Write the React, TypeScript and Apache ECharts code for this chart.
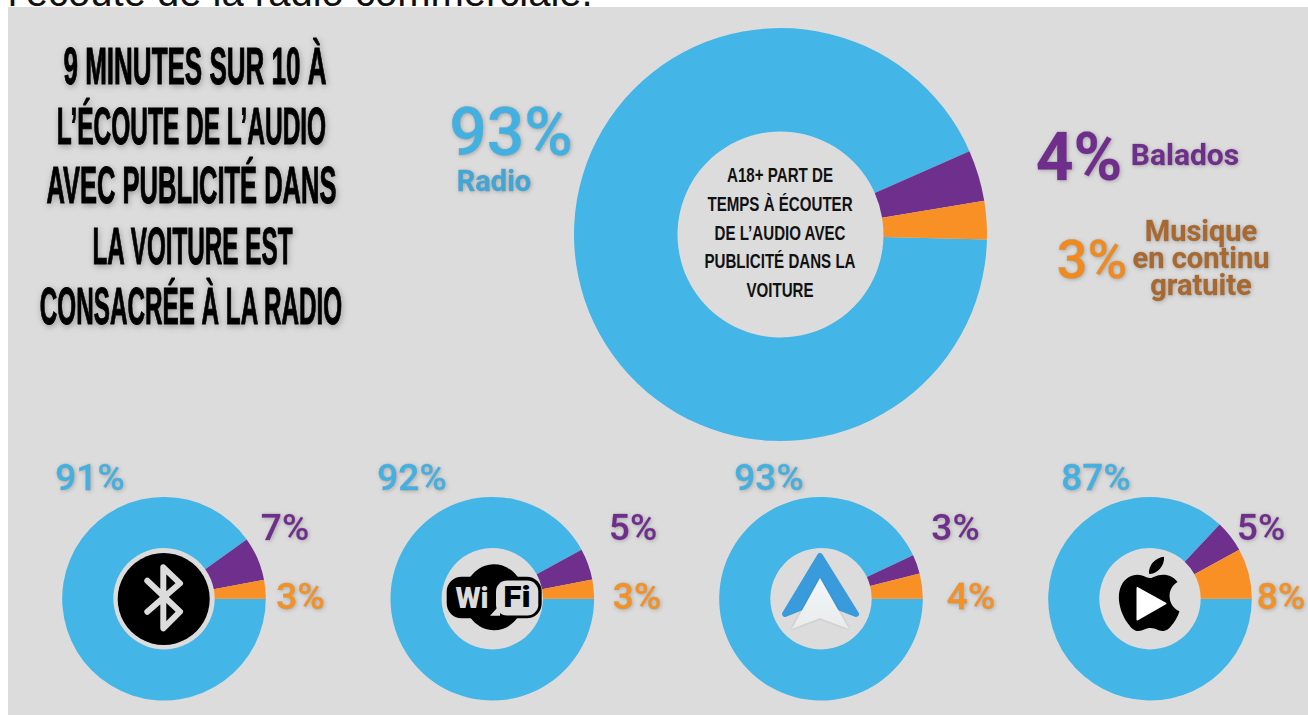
import React, { useEffect, useRef } from "react";
import * as echarts from "echarts";

// Share of listening time, in percent, ordered radio / podcasts / free streaming.
const mainShares = [93, 4, 3];
const mainNames = ["Radio", "Balados", "Musique en continu gratuite"];
const bluetoothShares = [91, 7, 3];
const wifiShares = [92, 5, 3];
const androidAutoShares = [93, 3, 4];
const carPlayShares = [87, 5, 8];

const headingLines = [
  "9 MINUTES SUR 10 À",
  "L’ÉCOUTE DE L’AUDIO",
  "AVEC PUBLICITÉ DANS",
  "LA VOITURE EST",
  "CONSACRÉE À LA RADIO",
];
const centerLines = [
  "A18+ PART DE",
  "TEMPS À ÉCOUTER",
  "DE L’AUDIO AVEC",
  "PUBLICITÉ DANS LA",
  "VOITURE",
];
const clippedLine = "l’écoute de la radio commerciale.";

const BLUE = "#43b5e7";
const PURPLE = "#6f2f8c";
const ORANGE = "#f99025";
const PANEL = "#dcdcdc";
const GROTESK = '"Liberation Sans", sans-serif';

const APPLE_D =
  "M12.152 6.896c-.948 0-2.415-1.078-3.96-1.04-2.04.027-3.91 1.183-4.961 3.014-2.117 3.675-.546 9.103 1.519 12.09 1.013 1.454 2.208 3.09 3.792 3.039 1.52-.065 2.09-.987 3.935-.987 1.831 0 2.35.987 3.96.948 1.637-.026 2.676-1.48 3.676-2.948 1.156-1.688 1.636-3.325 1.662-3.415-.039-.013-3.182-1.221-3.22-4.857-.026-3.04 2.48-4.494 2.597-4.559-1.429-2.09-3.623-2.324-4.39-2.376-2-.156-3.675 1.09-4.61 1.09zM15.53 3.83c.843-1.012 1.4-2.427 1.245-3.83-1.207.052-2.662.805-3.532 1.818-.78.896-1.454 2.338-1.273 3.714 1.338.104 2.715-.688 3.559-1.701";
echarts.graphic.registerShape("appleMark", echarts.graphic.extendPath(APPLE_D, {}));

const donut = (
  values: number[],
  cx: number,
  cy: number,
  inner: number,
  outer: number,
  startAngle: number
) => ({
  type: "pie",
  silent: true,
  center: [cx, cy],
  radius: [inner, outer],
  startAngle,
  clockwise: true,
  label: { show: false },
  labelLine: { show: false },
  data: values.map((value, i) => ({
    value,
    itemStyle: { color: [BLUE, PURPLE, ORANGE][i] },
  })),
});

// Percent or caption text with the soft drop shadow used throughout the graphic.
const glowText = (
  text: string,
  x: number,
  y: number,
  size: number,
  fill: string,
  weight: number | string = 500
) => ({
  type: "text",
  x,
  y,
  z: 20,
  silent: true,
  style: {
    text,
    fill,
    stroke: "rgba(30,30,50,0.3)",
    lineWidth: 0.4,
    align: "center",
    verticalAlign: "middle",
    fontFamily: "Roboto, sans-serif",
    fontSize: size,
    fontWeight: weight,
    textShadowColor: "rgba(0,0,0,0.25)",
    textShadowBlur: 4,
    textShadowOffsetX: 1,
    textShadowOffsetY: 1,
  },
});

const pct = (v: number) => `${v}%`;

function buildGraphics() {
  const els: any[] = [];

  els.push({
    type: "rect",
    z: -1,
    silent: true,
    shape: { x: 8, y: 7, width: 1300, height: 708 },
    style: { fill: PANEL },
  });
  els.push({
    type: "text",
    x: 8,
    y: 12,
    z: -2,
    silent: true,
    style: {
      text: clippedLine,
      fill: "#111",
      align: "left",
      verticalAlign: "bottom",
      fontFamily: GROTESK,
      fontSize: 40,
    },
  });

  // Heading, squeezed into a tall condensed shape
  const headingX = [195, 191.5, 191.5, 192.5, 191];
  const headingWidthScale = [0.51, 0.48, 0.5, 0.476, 0.476];
  headingLines.forEach((text, i) => {
    els.push({
      type: "text",
      x: headingX[i],
      y: 66 + i * 60,
      scaleX: headingWidthScale[i],
      z: 20,
      silent: true,
      style: {
        text,
        fill: "#060606",
        stroke: "#060606",
        lineWidth: 1,
        align: "center",
        verticalAlign: "middle",
        fontFamily: GROTESK,
        fontWeight: "bold",
        fontSize: 51,
        textShadowColor: "rgba(0,0,0,0.3)",
        textShadowBlur: 6,
        textShadowOffsetX: 1,
        textShadowOffsetY: 2,
      },
    });
  });

  // Caption inside the main ring
  const centerY = [175, 203.5, 232.5, 261, 289.5];
  centerLines.forEach((text, i) => {
    els.push({
      type: "text",
      x: 780,
      y: centerY[i],
      scaleX: 0.72,
      z: 20,
      silent: true,
      style: {
        text,
        fill: "#111",
        align: "center",
        verticalAlign: "middle",
        fontFamily: GROTESK,
        fontWeight: "bold",
        fontSize: 21,
      },
    });
  });

  // Main ring labels
  els.push(glowText(pct(mainShares[0]), 511, 132, 66, "#43b0e0"));
  els.push(glowText(mainNames[0], 494, 181, 29, "#3fa6d6", 700));
  els.push(glowText(pct(mainShares[1]), 1079, 157, 66, PURPLE, 700));
  els.push(glowText(mainNames[1], 1185, 154, 30, PURPLE, 700));
  els.push(glowText(pct(mainShares[2]), 1092, 259, 54, "#f08a1e"));
  ["Musique", "en continu", "gratuite"].forEach((text, i) =>
    els.push(glowText(text, 1201, 231 + i * 27, 29, "#a9682f", 700))
  );

  // Small ring labels: [ring values, blue x, purple x, orange x]
  const rows: [number[], number, number, number][] = [
    [bluetoothShares, 90, 285, 300.5],
    [wifiShares, 412, 633, 637],
    [androidAutoShares, 769, 955.5, 971],
    [carPlayShares, 1096, 1261, 1281],
  ];
  rows.forEach(([vals, bx, px, ox]) => {
    els.push(glowText(pct(vals[0]), bx, 477, 37, "#43b0e0"));
    els.push(glowText(pct(vals[1]), px, 527, 37, PURPLE));
    els.push(glowText(pct(vals[2]), ox, 596, 37, "#f59022"));
  });

  // Bluetooth badge
  els.push({
    type: "circle",
    z: 10,
    silent: true,
    shape: { cx: 163.7, cy: 599, r: 46 },
    style: { fill: "#000" },
  });
  els.push({
    type: "polyline",
    z: 11,
    silent: true,
    shape: {
      points: [
        [147.3, 580.7],
        [180, 611.7],
        [163.3, 628.3],
        [163.3, 567.3],
        [180, 583.3],
        [147.3, 611.7],
      ],
    },
    style: { stroke: PANEL, lineWidth: 6, fill: "none", lineJoin: "round", lineCap: "round" },
  });

  // Wi-Fi badge: cloud, speech bubble and the two syllables
  els.push({ type: "ellipse", z: 10, silent: true, shape: { cx: 494, cy: 597.3, rx: 30, ry: 33 }, style: { fill: "#000" } });
  els.push({ type: "rect", z: 10, silent: true, shape: { x: 446.7, y: 576.7, width: 95, height: 41.6, r: 15 }, style: { fill: "#000" } });
  els.push({ type: "rect", z: 11, silent: true, shape: { x: 496, y: 580.5, width: 42.3, height: 35, r: 11 }, style: { fill: PANEL } });
  els.push({
    type: "polygon",
    z: 11,
    silent: true,
    shape: { points: [[490, 615.7], [500, 615.7], [500, 600], [497, 608]] },
    style: { fill: PANEL },
  });
  const wifiText = (text: string, x: number, fill: string, scaleX: number) => ({
    type: "text",
    x,
    y: 597.5,
    scaleX,
    z: 12,
    silent: true,
    style: {
      text,
      fill,
      align: "center",
      verticalAlign: "middle",
      fontFamily: "Roboto, sans-serif",
      fontWeight: 900,
      fontSize: 29,
    },
  });
  els.push(wifiText("Wi", 472, PANEL, 1));
  els.push(wifiText("Fi", 517, "#000", 1.15));

  // Navigation arrow badge
  els.push({
    type: "polygon",
    z: 10,
    silent: true,
    shape: { points: [[820, 556], [856, 614], [820, 600], [785, 614]] },
    style: { fill: "#3a9bdc", stroke: "#3a9bdc", lineWidth: 6, lineJoin: "round" },
  });
  els.push({
    type: "polygon",
    z: 11,
    silent: true,
    shape: { points: [[820, 578], [849, 629], [820, 618.3], [791.7, 629]] },
    style: {
      fill: {
        type: "linear",
        x: 0,
        y: 0,
        x2: 0,
        y2: 1,
        colorStops: [
          { offset: 0, color: "#f2f6f9" },
          { offset: 1, color: "#e9ebeb" },
        ],
      },
      shadowColor: "rgba(0,0,0,0.25)",
      shadowBlur: 2,
    },
  });

  // Apple mark with a play triangle
  const appleScale = 3.1;
  els.push({
    type: "appleMark",
    x: 1112,
    y: 556.7,
    scaleX: appleScale,
    scaleY: appleScale,
    z: 10,
    silent: true,
    style: { fill: "#000" },
  });
  els.push({
    type: "polygon",
    z: 11,
    silent: true,
    shape: { points: [[1137.5, 588], [1165.5, 603.5], [1137.5, 619.5]] },
    style: { fill: "#fff", stroke: "#fff", lineWidth: 2, lineJoin: "round" },
  });

  return els;
}

export default function App() {
  const ref = useRef<HTMLDivElement>(null);

  useEffect(() => {
    const chart = echarts.init(ref.current!, undefined, { renderer: "svg" });
    chart.setOption({
      animation: false,
      backgroundColor: "#fff",
      series: [
        donut(mainShares, 780.5, 234.5, 103, 206.5, -1.4),
        donut(bluetoothShares, 164, 598.7, 50.7, 101.8, 0),
        donut(wifiShares, 492.3, 598.7, 50.7, 101.8, 0),
        donut(androidAutoShares, 821, 598.7, 50.7, 101.8, 0),
        donut(carPlayShares, 1150, 598.7, 50.7, 101.8, 0),
      ],
      graphic: { elements: buildGraphics() },
    });
    return () => chart.dispose();
  }, []);

  return (
    <div
      ref={ref}
      style={{ position: "fixed", left: 0, top: 0, width: 1308, height: 715 }}
    />
  );
}
